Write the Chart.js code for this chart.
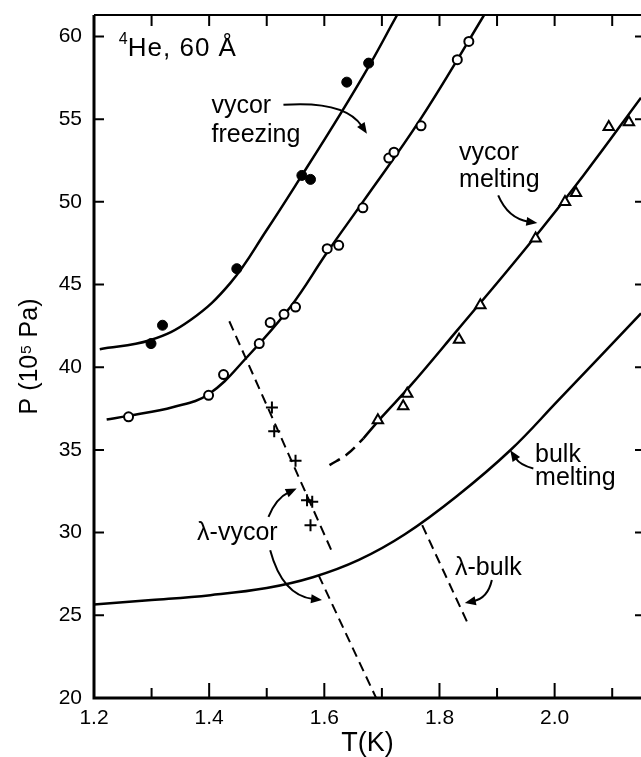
<!DOCTYPE html>
<html>
<head>
<meta charset="utf-8">
<title>4He in Vycor: melting, freezing and lambda lines</title>
<script src="https://cdn.jsdelivr.net/npm/chart.js@4.4.0/dist/chart.umd.min.js"></script>
<style>
  html, body { margin: 0; padding: 0; background: #fff; }
  canvas { display: block; }
</style>
</head>
<body>
<canvas id="phaseChart" width="641" height="757"></canvas>
<script>
// measured points (T in K, P in 10^5 Pa)
var freezeT = [1.299, 1.319, 1.448, 1.561, 1.576, 1.639, 1.677];
var freezeP = [41.43, 42.54, 45.96, 51.60, 51.36, 57.24, 58.39];

var openT = [1.260, 1.399, 1.425, 1.487, 1.506, 1.530, 1.550, 1.605, 1.625, 1.667, 1.712, 1.721, 1.768, 1.831, 1.851];
var openP = [37.00, 38.30, 39.56, 41.43, 42.70, 43.20, 43.64, 47.17, 47.37, 49.64, 52.65, 53.00, 54.60, 58.60, 59.70];

var meltT = [1.693, 1.737, 1.744, 1.834, 1.871, 1.967, 2.018, 2.037, 2.094, 2.129];
var meltP = [36.80, 37.64, 38.40, 41.66, 43.75, 47.78, 49.99, 50.53, 54.52, 54.82];

var lambdaT = [1.509, 1.513, 1.550, 1.570, 1.579, 1.576];
var lambdaP = [37.56, 36.13, 34.34, 31.96, 31.86, 30.45];

// drawn curves
var freezeCurveT = [1.21, 1.297, 1.367, 1.437, 1.500, 1.561, 1.628, 1.680, 1.726, 1.745];
var freezeCurveP = [41.09, 41.63, 42.84, 45.10, 48.30, 51.60, 55.32, 58.36, 61.27, 62.40];

var openCurveT = [1.222, 1.260, 1.338, 1.399, 1.466, 1.541, 1.605, 1.667, 1.767, 1.877, 1.890];
var openCurveP = [36.84, 37.06, 37.60, 38.37, 40.62, 43.64, 46.95, 50.00, 55.00, 61.27, 62.10];

var meltDashT = [1.609, 1.640, 1.668];
var meltDashP = [34.08, 34.75, 35.70];
var meltCurveT = [1.668, 1.700, 1.750, 1.830, 1.950, 2.050, 2.150];
var meltCurveP = [35.70, 37.00, 38.90, 42.20, 47.20, 51.60, 56.30];

var bulkCurveT = [1.200, 1.300, 1.402, 1.500, 1.580, 1.660, 1.740, 1.830, 1.923, 2.005, 2.150];
var bulkCurveP = [25.66, 25.92, 26.22, 26.65, 27.30, 28.35, 29.90, 32.20, 34.98, 37.95, 43.26];

var lambdaUpperT = [1.435, 1.616];
var lambdaUpperP = [42.78, 28.64];
var lambdaLowerT = [1.590, 1.690];
var lambdaLowerP = [27.43, 20.00];
var lambdaBulkT = [1.770, 1.848];
var lambdaBulkP = [30.45, 24.60];

// labels on the plot
var noteText = ['vycor', 'freezing', 'vycor', 'melting', 'bulk', 'melting', 'λ-vycor', 'λ-bulk'];
var noteT = [1.404, 1.404, 1.834, 1.834, 1.966, 1.966, 1.379, 1.827];
var noteP = [55.35, 53.61, 52.51, 50.88, 34.26, 32.87, 29.55, 27.43];

// curved arrows: start, bend, tip
var arrowFrom = [[1.529, 55.87], [1.902, 50.39], [1.963, 33.88], [1.891, 27.13], [1.503, 30.95], [1.506, 28.94]];
var arrowVia  = [[1.636, 56.13], [1.919, 49.00], [1.940, 34.08], [1.884, 26.04], [1.516, 32.08], [1.527, 26.22]];
var arrowTo   = [[1.674, 54.12], [1.970, 48.72], [1.923, 34.98], [1.844, 25.74], [1.552, 32.67], [1.596, 25.92]];

function pts(xs, ys) {
    return xs.map(function(x, i) { return {x: x, y: ys[i]}; });
}

var FONT = '"Liberation Sans", Arial, sans-serif';
Chart.defaults.font.family = FONT;
Chart.defaults.color = '#000';

function curve(xs, ys, dash) {
    return {
        type: 'line', data: pts(xs, ys), showLine: true,
        borderColor: '#000', borderWidth: 2.5, borderDash: dash || [],
        pointRadius: 0, tension: 0.4, clip: 0, fill: false
    };
}
function straight(xs, ys, dash) {
    var d = curve(xs, ys, dash);
    d.borderWidth = 2;
    d.tension = 0;
    return d;
}

// inward ticks and frame
var framePlugin = {
    id: 'frame',
    afterDraw: function(chart) {
        var c = chart.ctx, a = chart.chartArea, xs = chart.scales.x, ys = chart.scales.y;
        c.save();
        c.strokeStyle = '#000';
        c.lineCap = 'butt';
        c.lineWidth = 3;
        c.beginPath();
        c.moveTo(a.left, a.top); c.lineTo(a.left, a.bottom); c.lineTo(a.right, a.bottom);
        c.stroke();
        c.lineWidth = 2.2;
        c.beginPath();
        c.moveTo(a.left, a.top); c.lineTo(a.right, a.top);
        c.stroke();
        c.lineWidth = 2;
        xs.ticks.forEach(function(t) {
            var k = Math.round(t.value * 10);
            if (Math.abs(t.value * 10 - k) > 1e-6) return;
            var px = xs.getPixelForValue(t.value);
            var len = (k % 2 === 0) ? 15 : 10;
            c.beginPath();
            c.moveTo(px, a.bottom); c.lineTo(px, a.bottom - len);
            c.moveTo(px, a.top); c.lineTo(px, a.top + 11);
            c.stroke();
        });
        ys.ticks.forEach(function(t) {
            if (t.value % 5 !== 0) return;
            var py = ys.getPixelForValue(t.value);
            c.beginPath();
            c.moveTo(a.left, py); c.lineTo(a.left + 10, py);
            c.moveTo(a.right, py); c.lineTo(a.right - 6, py);
            c.stroke();
        });
        c.restore();
    }
};

// text labels and arrows
var notesPlugin = {
    id: 'notes',
    afterDraw: function(chart) {
        var c = chart.ctx, xs = chart.scales.x, ys = chart.scales.y;
        function X(v) { return xs.getPixelForValue(v); }
        function Y(v) { return ys.getPixelForValue(v); }
        c.save();
        c.fillStyle = '#000';
        c.strokeStyle = '#000';
        c.textAlign = 'left';
        c.textBaseline = 'alphabetic';

        // sample label
        var hx = X(1.243), hy = Y(58.8);
        c.font = '16px ' + FONT;
        c.fillText('4', hx, hy - 12);
        c.font = '26px ' + FONT;
        c.letterSpacing = '1px';
        c.fillText('He, 60 Å', hx + 9, hy);
        c.letterSpacing = '0px';

        c.font = '25px ' + FONT;
        noteText.forEach(function(s, i) {
            c.fillText(s, X(noteT[i]), Y(noteP[i]));
        });

        c.lineWidth = 2;
        arrowFrom.forEach(function(f, i) {
            var v = arrowVia[i], t = arrowTo[i];
            var x0 = X(f[0]), y0 = Y(f[1]), x1 = X(v[0]), y1 = Y(v[1]), x2 = X(t[0]), y2 = Y(t[1]);
            var ang = Math.atan2(y2 - y1, x2 - x1);
            var L = 11, W = 4.5;
            var bx = x2 - L * Math.cos(ang), by = y2 - L * Math.sin(ang);
            c.beginPath();
            c.moveTo(x0, y0);
            c.quadraticCurveTo(x1, y1, bx + 2 * Math.cos(ang), by + 2 * Math.sin(ang));
            c.stroke();
            c.beginPath();
            c.moveTo(x2, y2);
            c.lineTo(bx + W * Math.sin(ang), by - W * Math.cos(ang));
            c.lineTo(bx - W * Math.sin(ang), by + W * Math.cos(ang));
            c.closePath();
            c.fill();
        });
        c.restore();
    }
};

var chart = new Chart(document.getElementById('phaseChart'), {
    type: 'scatter',
    data: {
        datasets: [
            {
                label: 'freezing', data: pts(freezeT, freezeP), pointStyle: 'circle',
                pointRadius: 5, backgroundColor: '#000', borderColor: '#000', borderWidth: 1
            },
            {
                label: 'open', data: pts(openT, openP), pointStyle: 'circle',
                pointRadius: 4.5, backgroundColor: '#fff', borderColor: '#000', borderWidth: 2
            },
            {
                label: 'melting', data: pts(meltT, meltP), pointStyle: 'triangle',
                pointRadius: 6, backgroundColor: '#fff', borderColor: '#000', borderWidth: 2
            },
            {
                label: 'lambda', data: pts(lambdaT, lambdaP), pointStyle: 'cross',
                pointRadius: 6, borderColor: '#000', borderWidth: 2
            },
            curve(freezeCurveT, freezeCurveP),
            curve(openCurveT, openCurveP),
            curve(meltDashT, meltDashP, [12, 7]),
            curve(meltCurveT, meltCurveP),
            curve(bulkCurveT, bulkCurveP),
            straight(lambdaUpperT, lambdaUpperP, [10, 6]),
            straight(lambdaLowerT, lambdaLowerP, [10, 6]),
            straight(lambdaBulkT, lambdaBulkP, [10, 6])
        ]
    },
    options: {
        responsive: false,
        animation: false,
        events: [],
        layout: { autoPadding: false, padding: { top: 15, right: 0, left: 0, bottom: 0 } },
        plugins: { legend: { display: false }, tooltip: { enabled: false } },
        scales: {
            x: {
                type: 'linear', min: 1.2, max: 2.15,
                afterFit: function(s) { s.height = 59; s.paddingLeft = 0; s.paddingRight = 0; },
                grid: { display: false, drawTicks: false },
                border: { display: false },
                ticks: {
                    stepSize: 0.1, includeBounds: false, autoSkip: false, maxRotation: 0,
                    padding: 8, font: { size: 21 },
                    callback: function(v) {
                        var k = Math.round(v * 10);
                        if (Math.abs(v * 10 - k) > 1e-6 || k % 2) return '';
                        return (k / 10).toFixed(1);
                    }
                },
                title: {
                    display: true, text: 'T(K)', font: { size: 27, lineHeight: 1 },
                    padding: { top: 0, bottom: 0 }
                }
            },
            y: {
                type: 'linear', min: 20, max: 61.3,
                afterFit: function(s) { s.width = 94; s.paddingTop = 0; s.paddingBottom = 0; },
                grid: { display: false, drawTicks: false },
                border: { display: false },
                ticks: {
                    stepSize: 5, includeBounds: false, padding: 12, font: { size: 21 },
                    callback: function(v) { return v % 5 === 0 ? v : ''; }
                },
                title: {
                    display: true, text: 'P (10⁵ Pa)', font: { size: 25, lineHeight: 1.2 },
                    padding: { top: 15, bottom: 0 }
                }
            }
        }
    },
    plugins: [framePlugin, notesPlugin]
});
</script>
</body>
</html>
